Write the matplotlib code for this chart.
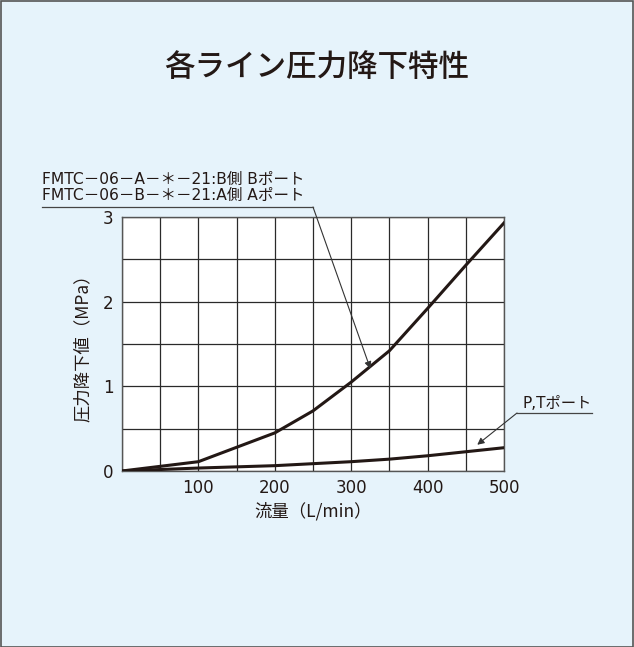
import matplotlib
matplotlib.use("Agg")
import matplotlib.pyplot as plt
from matplotlib.patches import Rectangle
import numpy as np

plt.rcParams['font.family'] = ['Noto Sans CJK JP', 'DejaVu Sans']
LATIN_FIRST = ['DejaVu Sans', 'Noto Sans CJK JP']

title = "各ライン圧力降下特性"
xlabel = "流量（L/min）"
ylabel = "圧力降下値（MPa）"
label_ab1 = "FMTC－06－A－＊－21:B側 Bポート"
label_ab2 = "FMTC－06－B－＊－21:A側 Aポート"
label_pt = "P,Tポート"

ab_flow = [0, 100, 200, 250, 300, 350, 400, 450, 500]
ab_drop = [0, 0.11, 0.45, 0.71, 1.05, 1.42, 1.92, 2.43, 2.93]
pt_flow = [0, 100, 200, 300, 350, 400, 500]
pt_drop = [0, 0.035, 0.063, 0.11, 0.14, 0.18, 0.275]

xticks = [100, 200, 300, 400, 500]
yticks = [0, 1, 2, 3]

W, H = 634, 647
fig = plt.figure(figsize=(W/100, H/100), dpi=100)
bg = "#e6f3fb"
fig.patch.set_facecolor(bg)
fig.patches.append(Rectangle((0.5/W, 0.5/H), 1 - 1.5/W, 1 - 1.5/H, transform=fig.transFigure,
                             fill=False, edgecolor="#555555", linewidth=1.2))

ax = fig.add_axes([122/W, 1 - 471/H, (504-122)/W, (471-217)/H])
ax.set_facecolor("white")
ax.set_xlim(0, 500)
ax.set_ylim(0, 3)
ax.set_xticks(xticks)
ax.set_yticks(yticks)
ax.set_xticks(np.arange(0, 501, 50), minor=True)
ax.set_yticks(np.arange(0, 3.01, 0.5), minor=True)
ax.grid(which="both", color="#2a2a2a", linewidth=0.9)
ax.tick_params(which="both", length=0, labelsize=12, colors="#231815", pad=6)
for lab in ax.get_xticklabels() + ax.get_yticklabels():
    lab.set_family(LATIN_FIRST)
for s in ax.spines.values():
    s.set_color("#555555")
    s.set_linewidth(1.0)

ax.plot(ab_flow, ab_drop, color="#231815", linewidth=2.2, zorder=3)
ax.plot(pt_flow, pt_drop, color="#231815", linewidth=2.2, zorder=3)

ax.set_xlabel(xlabel, fontsize=12.5, color="#231815", labelpad=3)
ax.set_ylabel(ylabel, fontsize=12.5, color="#231815", labelpad=8)

fig.text(0.5, 1 - 67/H, title, ha="center", va="center", fontsize=22,
         fontweight="medium", color="#231815")

# annotation for A/B curve
tc = "#231815"
fig.text(42/W, 1 - 179/H, label_ab1, ha="left", va="center", fontsize=11.2,
         color=tc, family=LATIN_FIRST)
fig.text(42/W, 1 - 195/H, label_ab2, ha="left", va="center", fontsize=11.2,
         color=tc, family=LATIN_FIRST)
fig.add_artist(plt.Line2D([42/W, 313/W], [1 - 207/H, 1 - 207/H], transform=fig.transFigure,
                          color="#444444", linewidth=0.9))
ax.annotate("", xy=(325, 1.21), xycoords="data",
            xytext=(313/W, 1 - 207/H), textcoords="figure fraction",
            arrowprops=dict(arrowstyle="-|>", color="#333333", linewidth=0.8,
                            mutation_scale=10, shrinkA=0, shrinkB=0), zorder=5)

# annotation for P,T curve
fig.text(522/W, 1 - 404/H, label_pt, ha="left", va="center", fontsize=11,
         color=tc, family=LATIN_FIRST)
fig.add_artist(plt.Line2D([517/W, 592/W], [1 - 413/H, 1 - 413/H], transform=fig.transFigure,
                          color="#444444", linewidth=0.9))
ax.annotate("", xy=(465, 0.31), xycoords="data",
            xytext=(517/W, 1 - 413/H), textcoords="figure fraction",
            arrowprops=dict(arrowstyle="-|>", color="#333333", linewidth=0.8,
                            mutation_scale=10, shrinkA=0, shrinkB=0), zorder=5,
            annotation_clip=False)

fig.savefig("out.png", dpi=100, facecolor=fig.get_facecolor())
